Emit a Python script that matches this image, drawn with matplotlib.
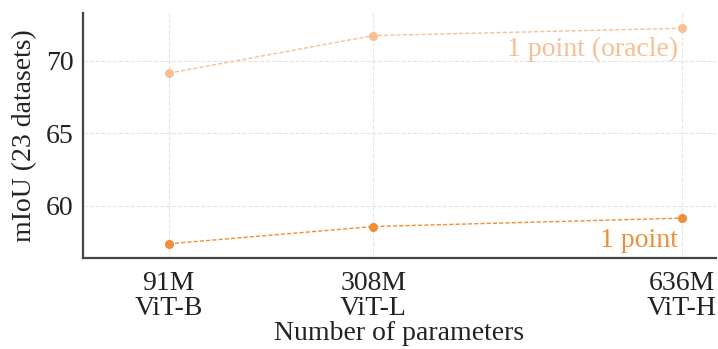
import numpy as np
from matplotlib import pyplot as plt

# model sizes (M params) and labels
params = [91, 308, 636]
tick_labels = ["91M\nViT-B", "308M\nViT-L", "636M\nViT-H"]
oracle_miou = [69.13, 71.72, 72.23]
one_point_miou = [57.36, 58.55, 59.13]

plt.rcParams['font.family'] = ['Liberation Serif', 'DejaVu Serif']
plt.rcParams['font.size'] = 20

fig = plt.figure(figsize=(7.18, 3.49), dpi=100)
ax = fig.add_axes([83/718, 1-258/349, 633/718, (258-12.7)/349])

c_dark = '#EE8E3A'
c_light = '#F6BF94'

ax.plot(params, oracle_miou, '--o', color=c_light, lw=1.0, ms=5.5, dashes=(3, 1.5))
ax.plot(params, one_point_miou, '--o', color=c_dark, lw=1.0, ms=5.5, dashes=(3, 1.5))

ax.text(632, 70.8, "1 point (oracle)", color=c_light, ha='right', va='center', fontsize=20)
ax.text(632, 57.6, "1 point", color=c_dark, ha='right', va='center', fontsize=20)

ax.set_xlim(0, 672)
ax.set_ylim(56.38, 73.3)
ax.set_xticks(params)
ax.set_xticklabels(tick_labels, linespacing=1.05)
ax.set_yticks([60, 65, 70])
ax.tick_params(length=0, colors='#222222')
ax.tick_params(axis='x', pad=9)
ax.tick_params(axis='y', pad=7)
ax.grid(True, color='#e4e4e4', ls='--', lw=0.8)
ax.set_axisbelow(True)

for s in ['top', 'right']:
    ax.spines[s].set_visible(False)
for s in ['left', 'bottom']:
    ax.spines[s].set_color('#444444')
    ax.spines[s].set_linewidth(1.6)

ax.set_xlabel("Number of parameters", labelpad=0, color='#222222')
ax.set_ylabel("mIoU (23 datasets)", labelpad=6, color='#222222')

plt.savefig("out.png", dpi=100)
